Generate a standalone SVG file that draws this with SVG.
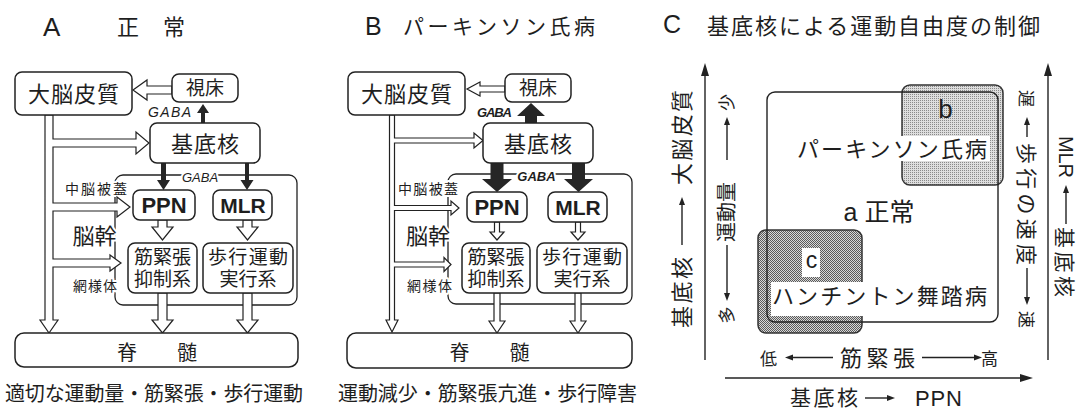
<svg xmlns="http://www.w3.org/2000/svg" width="1079" height="410" viewBox="0 0 1079 410">
<defs>
<style>
text{font-family:"Noto Sans CJK JP","Noto Sans CJK SC",sans-serif;fill:#1e1e1e}
.lat{font-family:"Liberation Sans",Arial,sans-serif}
.mix{font-family:"Liberation Sans","Noto Sans CJK JP",sans-serif}
.m{text-anchor:middle}
.box{fill:#fff;stroke:#222;stroke-width:1.5}
.encl{fill:none;stroke:#222;stroke-width:1.3}
.ho{fill:#fff;stroke:#222;stroke-width:1.2}
.blk{fill:#262626}
.halo{stroke:#fff;stroke-width:4px;paint-order:stroke;stroke-linejoin:round}
.ax{stroke:#222;stroke-width:1.4;fill:none}
.ah{fill:#222}
.gaba{font-family:"Liberation Sans",Arial,sans-serif;font-style:italic}
.b{font-weight:bold}
</style>
<pattern id="dotL" width="2" height="2" patternUnits="userSpaceOnUse"><rect width="2" height="2" fill="#dedede"/><rect width="1" height="1" fill="#8a8a8a"/></pattern>
<pattern id="chk" width="2" height="2" patternUnits="userSpaceOnUse"><rect width="2" height="2" fill="#d8d8d8"/><rect width="1" height="1" fill="#5a5a5a"/><rect x="1" y="1" width="1" height="1" fill="#5a5a5a"/></pattern>
</defs>
<rect width="1079" height="410" fill="#fff"/>

<!-- ===== Panel A ===== -->
<g id="A-title"><text class="lat" x="43" y="36" font-size="26">A</text><text x="117 163" y="35" font-size="22">正常</text></g>
<g id="A-brainstem">
<rect class="encl" x="115" y="175" width="182" height="130" rx="8"/>
<text class="gaba halo m" x="200" y="182" font-size="13">GABA</text>
<text class="halo m" x="96" y="194" font-size="14" textLength="62">中脳被蓋</text>
<text class="halo m" x="94.5" y="244" font-size="22">脳幹</text>
<text class="halo m" x="95" y="291" font-size="14" textLength="44">網様体</text>
</g>
<g id="A-connectors">
<path class="ho" d="M172,86H147V80L133,90L147,100V94H172Z"/>
<path class="ho" d="M45,115V320H40L49,333L58,320H53V267H110V271L121,263L110,255V259H53V211H117V217L130,207L117,197V203H53V147H136V154L149,143L136,132V139H53V115Z"/>
<path class="ho" d="M158,220V227H152L162.5,240L173,227H167V220Z"/>
<path class="ho" d="M243,220V227H237L247.5,240L258,227H252V220Z"/>
<path class="ho" d="M158,293V320H152L162.5,333L173,320H167V293Z"/>
<path class="ho" d="M243,293V320H237L247.5,333L258,320H252V293Z"/>
<polygon class="blk" points="201,123 201,113 197,113 203,104 209,113 205,113 205,123"/>
<polygon class="blk" points="161,163 161,180 157,180 163.5,190 170,180 166,180 166,163"/>
<polygon class="blk" points="245,163 245,180 240.5,180 247,190 253.5,180 249,180 249,163"/>
<text class="gaba" x="148" y="117" font-size="14" textLength="43">GABA</text>
</g>
<g id="A-cortex"><rect class="box" x="15" y="72" width="117" height="43" rx="7"/><text class="m" x="73.5" y="102" font-size="22" textLength="91">大脳皮質</text></g>
<g id="A-thalamus"><rect class="box" x="172" y="74" width="66" height="28" rx="7"/><text class="m" x="205" y="95" font-size="19">視床</text></g>
<g id="A-basal"><rect class="box" x="150" y="123" width="110" height="40" rx="7"/><text class="m" x="205" y="151.5" font-size="22" textLength="68">基底核</text></g>
<g id="A-ppn"><rect class="box" x="133" y="190" width="62" height="30" rx="7"/><text class="lat b m" x="164" y="213" font-size="22">PPN</text></g>
<g id="A-mlr"><rect class="box" x="213" y="190" width="59" height="30" rx="7"/><text class="lat b m" x="243" y="213" font-size="21">MLR</text></g>
<g id="A-tone"><rect class="box" x="128" y="243" width="69" height="50" rx="7"/><text class="m" x="162.5" y="263.5" font-size="19">筋緊張</text><text class="m" x="162.5" y="286" font-size="19">抑制系</text></g>
<g id="A-loco"><rect class="box" x="203" y="243" width="90" height="50" rx="7"/><text class="m" x="248" y="263.5" font-size="19" textLength="80">歩行運動</text><text class="m" x="248" y="286" font-size="19">実行系</text></g>
<g id="A-spinal"><rect class="box" x="15" y="333" width="283" height="34" rx="9"/><text class="m" x="157" y="360" font-size="20">脊　　髄</text></g>
<g id="A-caption"><text x="5" y="401" font-size="20" textLength="298">適切な運動量・筋緊張・歩行運動</text></g>

<!-- ===== Panel B ===== -->
<g id="B-title"><text class="lat" x="365" y="35" font-size="25">B</text><text x="403" y="34" font-size="21" textLength="192">パーキンソン氏病</text></g>
<g id="B-brainstem">
<rect class="encl" x="448" y="174" width="184" height="130" rx="8"/>
<text class="gaba b halo m" x="536.5" y="181" font-size="13">GABA</text>
<text class="halo m" x="428" y="194" font-size="14" textLength="60">中脳被蓋</text>
<text class="halo m" x="428" y="244" font-size="22">脳幹</text>
<text class="halo m" x="429.5" y="291" font-size="14" textLength="45">網様体</text>
</g>
<g id="B-connectors">
<path class="ho" d="M505,86H480V82L467,89L480,96V92H505Z"/>
<path class="ho" d="M389.5,115V320H386L392,332L398,320H394.5V267H444V271.5L451,264.5L444,257.5V262H394.5V210.5H451V215L459,208L451,201V205.5H394.5V143H474V148L483,140.5L474,133V138H394.5V115Z"/>
<path class="ho" d="M494.5,222V232H490L497,240L504,232H499.5V222Z"/>
<path class="ho" d="M575.5,222V232H571L578,240L585,232H580.5V222Z"/>
<path class="ho" d="M494,293V321H489L497,333L505,321H500V293Z"/>
<path class="ho" d="M575,293V321H570L578,333L586,321H581V293Z"/>
<polygon class="blk" points="525,123 525,116 517,116 531,103 545,116 537,116 537,123"/>
<polygon class="blk" points="490.5,163 490.5,179 482,179 497,192 512,179 503.5,179 503.5,163"/>
<polygon class="blk" points="572,163 572,179 564,179 578.5,192 593,179 585,179 585,163"/>
<text class="gaba b" x="477" y="117" font-size="13" textLength="35">GABA</text>
</g>
<g id="B-cortex"><rect class="box" x="348" y="72" width="117" height="43" rx="7"/><text class="m" x="406.5" y="102" font-size="22" textLength="91">大脳皮質</text></g>
<g id="B-thalamus"><rect class="box" x="505" y="74" width="66" height="28" rx="7"/><text class="m" x="538" y="95" font-size="19">視床</text></g>
<g id="B-basal"><rect class="box" x="483" y="123" width="110" height="40" rx="7"/><text class="m" x="538" y="151.5" font-size="22" textLength="68">基底核</text></g>
<g id="B-ppn"><rect class="box" x="467" y="192" width="60" height="30" rx="7"/><text class="lat b m" x="497" y="214.5" font-size="22">PPN</text></g>
<g id="B-mlr"><rect class="box" x="548" y="192" width="59" height="30" rx="7"/><text class="lat b m" x="578" y="214.5" font-size="21">MLR</text></g>
<g id="B-tone"><rect class="box" x="462" y="243" width="68" height="50" rx="7"/><text class="m" x="496" y="263.5" font-size="19">筋緊張</text><text class="m" x="496" y="286" font-size="19">抑制系</text></g>
<g id="B-loco"><rect class="box" x="537" y="243" width="90" height="50" rx="7"/><text class="m" x="582" y="263.5" font-size="19" textLength="80">歩行運動</text><text class="m" x="582" y="286" font-size="19">実行系</text></g>
<g id="B-spinal"><rect class="box" x="347" y="333" width="285" height="35" rx="9"/><text class="m" x="489.5" y="360" font-size="20">脊　　髄</text></g>
<g id="B-caption"><text x="338" y="401" font-size="20" textLength="299">運動減少・筋緊張亢進・歩行障害</text></g>

<!-- ===== Panel C ===== -->
<g id="C-title"><text class="lat" x="663" y="33" font-size="25">C</text><text x="707" y="33.5" font-size="22" textLength="333">基底核による運動自由度の制御</text></g>
<g id="C-b">
<rect x="902" y="85" width="101" height="100" rx="8" fill="url(#dotL)" stroke="#333" stroke-width="1.5"/>
<text class="lat m" x="945.5" y="118" font-size="26">b</text>
<rect x="795" y="136" width="195" height="25" fill="#fff"/>
<text class="m" x="892" y="157" font-size="22" textLength="190">パーキンソン氏病</text>
</g>
<g id="C-c">
<rect x="758" y="230" width="104" height="103" rx="8" fill="url(#chk)" stroke="#333" stroke-width="1.5"/>
<rect x="802" y="248" width="18" height="29" fill="#fff"/>
<text class="lat m" x="811.5" y="268" font-size="23">c</text>
<rect x="771" y="282" width="219" height="34" fill="#fff"/>
<text class="m" x="879.5" y="304" font-size="22" textLength="215">ハンチントン舞踏病</text>
</g>
<g id="C-a">
<rect x="767" y="92" width="231" height="230" rx="8" fill="none" stroke="#222" stroke-width="1.4"/>
<text class="mix m" x="879" y="221" font-size="25">a 正常</text>
</g>
<g id="C-axes">
<line class="ax" x1="705" y1="360" x2="705" y2="74"/><polygon class="ah" points="705,63 701,76 709,76"/>
<line class="ax" x1="1048" y1="360" x2="1048" y2="74"/><polygon class="ah" points="1048,63 1044,76 1052,76"/>
<line class="ax" x1="725" y1="378" x2="1021" y2="378"/><polygon class="ah" points="1033,378 1020,374 1020,382"/>
</g>
<g id="C-left-labels">
<text class="m" font-size="22" textLength="95" transform="translate(690,137.5) rotate(-90)">大脳皮質</text>
<text class="m" font-size="22" textLength="71" transform="translate(690,292.5) rotate(-90)">基底核</text>
<line class="ax" x1="682" y1="245" x2="682" y2="204" stroke-width="1"/><polygon class="ah" points="682,197 679,205 685,205"/>
<text class="m" font-size="17" transform="translate(732.5,102.5) rotate(-90)">少</text>
<text class="m" font-size="20" textLength="60" transform="translate(733.5,212) rotate(-90)">運動量</text>
<text class="m" font-size="17" transform="translate(732.5,315) rotate(-90)">多</text>
<line class="ax" x1="727" y1="160" x2="727" y2="124" stroke-width="1"/><polygon class="ah" points="727,117 724,125 730,125"/>
<line class="ax" x1="727" y1="245" x2="727" y2="294" stroke-width="1"/><polygon class="ah" points="727,301 724,293 730,293"/>
</g>
<g id="C-right-labels">
<text class="m" font-size="17" transform="translate(1020,98.5) rotate(90)">遅</text>
<text class="m" font-size="21" textLength="122" transform="translate(1018.5,204) rotate(90)">歩行の速度</text>
<text class="m" font-size="17" transform="translate(1020,319.5) rotate(90)">速</text>
<line class="ax" x1="1027" y1="137" x2="1027" y2="124" stroke-width="1"/><polygon class="ah" points="1027,117 1024,125 1030,125"/>
<line class="ax" x1="1027" y1="268" x2="1027" y2="298" stroke-width="1"/><polygon class="ah" points="1027,305 1024,297 1030,297"/>
<text class="lat m" font-size="20" textLength="42" transform="translate(1059,157) rotate(90)">MLR</text>
<text class="m" font-size="21" textLength="70" transform="translate(1057,262) rotate(90)">基底核</text>
<line class="ax" x1="1066" y1="224" x2="1066" y2="192" stroke-width="1"/><polygon class="ah" points="1066,185 1063,193 1069,193"/>
</g>
<g id="C-bottom-labels">
<text class="m" x="768.5" y="365" font-size="17">低</text>
<line class="ax" x1="833" y1="357.5" x2="792" y2="357.5" stroke-width="1"/><polygon class="ah" points="785,357.5 793,354.5 793,360.5"/>
<text x="840" y="366" font-size="22" textLength="75">筋緊張</text>
<line class="ax" x1="922" y1="357.5" x2="975" y2="357.5" stroke-width="1"/><polygon class="ah" points="982,357.5 974,354.5 974,360.5"/>
<text class="m" x="989.5" y="365" font-size="17">高</text>
<text x="790" y="404.5" font-size="21" textLength="68">基底核</text>
<line class="ax" x1="865" y1="398" x2="888" y2="398" stroke-width="1"/><polygon class="ah" points="895,398 887,395 887,401"/>
<text class="lat" x="915" y="405.5" font-size="22" textLength="47">PPN</text>
</g>
</svg>
